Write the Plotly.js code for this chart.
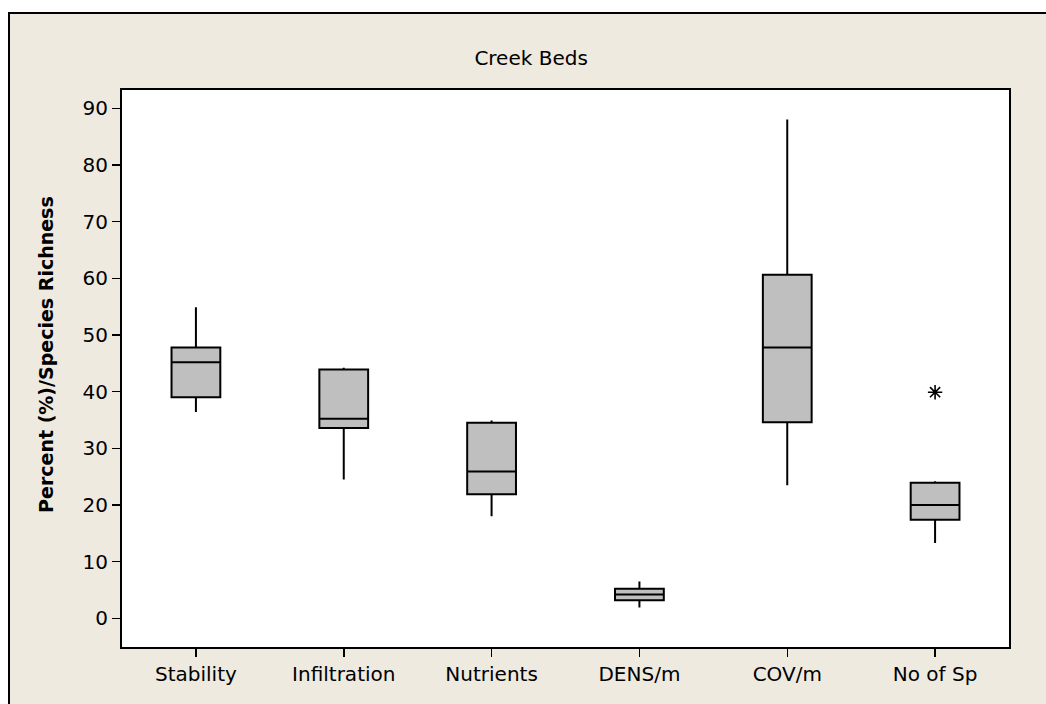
<!DOCTYPE html>
<html><head><meta charset="utf-8">
<script src="https://cdn.plot.ly/plotly-3.0.1.min.js"></script>
<style>
html,body{margin:0;padding:0;background:#fff;overflow:hidden;width:1046px;height:704px;}
#chart{position:absolute;left:8px;top:12px;width:1036px;height:690px;border-left:2px solid #000;border-top:2px solid #000;background:#EEEAE0;}
</style></head><body><div id="chart"></div>
<script>
const categories = ["Stability", "Infiltration", "Nutrients", "DENS/m", "COV/m", "No of Sp"];
const lowerWhisker = [36.4, 24.5, 18.0, 1.9, 23.5, 13.3];
const q1Values = [39.0, 33.6, 21.9, 3.2, 34.6, 17.4];
const medianValues = [45.2, 35.2, 25.9, 4.2, 47.8, 20.0];
const q3Values = [47.8, 43.9, 34.5, 5.2, 60.6, 23.9];
const upperWhisker = [54.9, 44.2, 34.9, 6.5, 88.0, 24.2];
const outlierCategories = ["No of Sp"];
const outlierValues = [39.9];
const yTickValues = [0, 10, 20, 30, 40, 50, 60, 70, 80, 90];

const FONT = "DejaVu Sans, sans-serif";

const traces = [
  {
    type: "box",
    x: categories,
    q1: q1Values,
    median: medianValues,
    q3: q3Values,
    lowerfence: lowerWhisker,
    upperfence: upperWhisker,
    width: 0.33,
    fillcolor: "#BFBFBF",
    line: {color: "#000000", width: 2},
    boxpoints: false,
    whiskerwidth: 0,
    showlegend: false,
    hoverinfo: "skip"
  },
  {
    type: "scatter",
    mode: "markers",
    x: outlierCategories,
    y: outlierValues,
    marker: {symbol: "asterisk-open", size: 12, color: "#000000", line: {color: "#000000", width: 1.6}},
    showlegend: false,
    hoverinfo: "skip"
  }
];

const layout = {
  width: 1036,
  height: 690,
  autosize: false,
  paper_bgcolor: "#EEEAE0",
  plot_bgcolor: "#FFFFFF",
  margin: {l: 112, r: 37, t: 76, b: 57, pad: 0},
  font: {family: FONT, color: "#000000", size: 20},
  title: {
    text: "Creek Beds",
    font: {family: FONT, size: 20, color: "#000000"},
    xref: "container", yref: "container",
    x: 0.503, xanchor: "center",
    y: 1 - 44.3 / 690, yanchor: "middle"
  },
  xaxis: {
    type: "category",
    categoryorder: "array",
    categoryarray: categories,
    range: [-0.5, 5.5],
    showline: true, linecolor: "#000000", linewidth: 2, mirror: true,
    ticks: "outside", ticklen: 8, tickwidth: 1.5, tickcolor: "#000000",
    showgrid: false, zeroline: false,
    tickfont: {family: FONT, size: 20, color: "#000000"}
  },
  yaxis: {
    range: [-5.06, 93.22],
    tickvals: yTickValues,
    ticktext: yTickValues.map(String),
    showline: true, linecolor: "#000000", linewidth: 2, mirror: true,
    ticks: "outside", ticklen: 8, tickwidth: 1.5, tickcolor: "#000000",
    showgrid: false, zeroline: false,
    tickfont: {family: FONT, size: 20, color: "#000000"}
  },
  annotations: [
    {
      text: "<b>Percent (%)/Species Richness</b>",
      textangle: -90,
      xref: "paper", yref: "paper",
      x: (36.7 - 112) / 887, y: (633 - 340.2) / 557,
      xanchor: "center", yanchor: "middle",
      showarrow: false,
      font: {family: FONT, size: 19, color: "#000000"}
    }
  ]
};

Plotly.newPlot("chart", traces, layout, {displayModeBar: false, staticPlot: true});
</script></body></html>
